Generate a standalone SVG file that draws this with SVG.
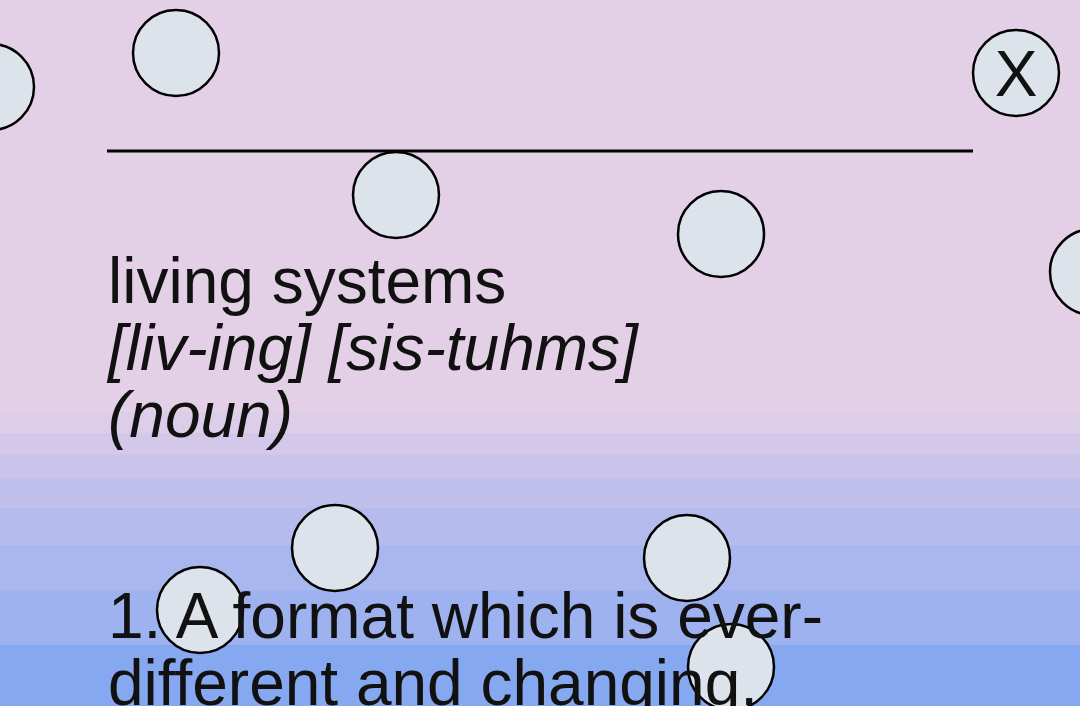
<svg xmlns="http://www.w3.org/2000/svg" width="1080" height="706" viewBox="0 0 1080 706">
<style>
.c{fill:#dde3ea;stroke:#000;stroke-width:2.5}
.t{font-family:"Liberation Sans",Arial,sans-serif;font-size:64px;fill:#111}
.i{font-style:italic}
</style>
<rect width="1080" height="706" fill="#e3d0e6"/>
<rect y="412" width="1080" height="21" fill="#dccde8"/>
<rect y="433" width="1080" height="22" fill="#d3c8e9"/>
<rect y="455" width="1080" height="23" fill="#cac4ea"/>
<rect y="478" width="1080" height="30" fill="#c1c0ec"/>
<rect y="508" width="1080" height="37" fill="#b6bbed"/>
<rect y="545" width="1080" height="45" fill="#aab6ee"/>
<rect y="590" width="1080" height="55" fill="#9eb2f0"/>
<rect y="645" width="1080" height="61" fill="#86a8f0"/>
<g id="circles">
<circle class="c" cx="176" cy="53" r="43"/>
<circle class="c" cx="-9" cy="87" r="43"/>
<circle class="c" cx="1016" cy="73" r="43"/>
<circle class="c" cx="396" cy="195" r="43"/>
<circle class="c" cx="721" cy="234" r="43"/>
<circle class="c" cx="1093" cy="272" r="43"/>
<circle class="c" cx="335" cy="548" r="43"/>
<circle class="c" cx="687" cy="558" r="43"/>
<circle class="c" cx="200" cy="610" r="43"/>
<circle class="c" cx="731" cy="667" r="43"/>
</g>
<line x1="107" y1="151" x2="973" y2="151" stroke="#000" stroke-width="3"/>
<text x="1016" y="96" class="t" text-anchor="middle">X</text>
<text class="t" x="108" y="303">living systems</text>
<text class="t i" x="108" y="370">[liv-ing] [sis-tuhms]</text>
<text class="t i" x="108" y="437">(noun)</text>
<text class="t" x="108" y="638">1. A format which is ever-</text>
<text class="t" x="108" y="705">different and changing.</text>
</svg>
